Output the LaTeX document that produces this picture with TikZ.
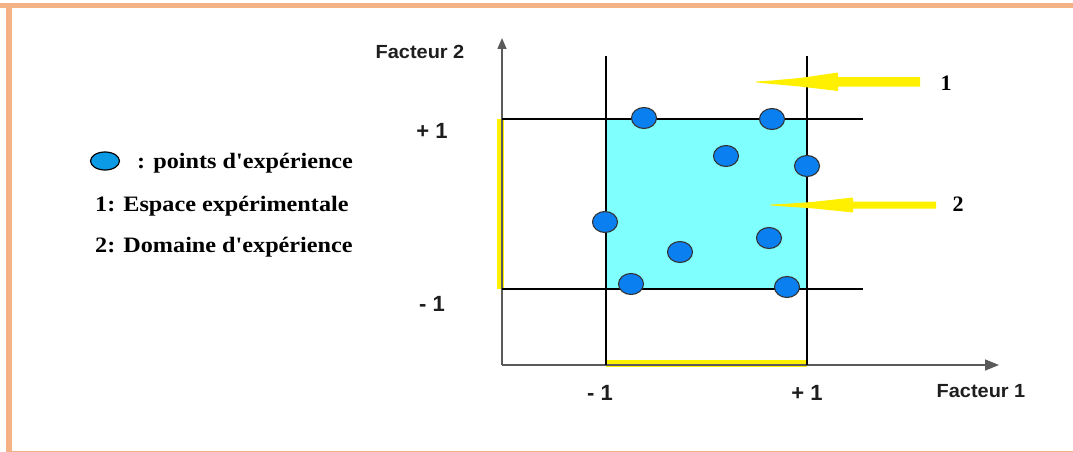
\documentclass[tikz,border=0pt]{standalone}
\usepackage{fontspec}
\setmainfont{Liberation Serif}
\setsansfont{Liberation Sans}
\usetikzlibrary{arrows.meta,shapes.geometric}
\definecolor{frameor}{HTML}{F5B385}
\definecolor{domcyan}{HTML}{80FFFF}
\definecolor{dotblue}{HTML}{0A7FF0}
\definecolor{legblue}{HTML}{0A9AE6}
\definecolor{markyel}{HTML}{FFF000}
\definecolor{axisgray}{HTML}{5A5A5A}
\definecolor{labgray}{HTML}{1E1E1E}
\tikzset{
  gridline/.style={black, line width=2pt},
  axisline/.style={axisgray, line width=1.5pt},
  expdot/.style={ellipse, draw=black!80, line width=1.1pt, fill=dotblue, minimum width=25pt, minimum height=21pt, inner sep=0pt},
  sanslab/.style={font=\sffamily\bfseries\fontsize{19}{21}\selectfont, text=labgray, inner sep=0pt},
  ticklab/.style={font=\sffamily\bfseries\fontsize{22}{24}\selectfont, text=labgray, inner sep=0pt},
  legtext/.style={font=\rmfamily\bfseries\fontsize{22}{25}\selectfont, anchor=west, inner sep=0pt},
  yelarrow/.style={fill=markyel, draw=none},
  yelbar/.style={markyel, line width=7pt}
}
\begin{document}
\begin{tikzpicture}[x=1pt,y=-1pt]
\useasboundingbox (0,0) rectangle (1073,452);
% frame
\fill[frameor] (0,3) rectangle (1073,8.5);
\fill[frameor] (6,3) rectangle (12,452);
\fill[frameor] (6,450.5) rectangle (1073,452);
% domain
\fill[domcyan] (606,119) rectangle (807,289);
% yellow bars
\draw[yelbar] (500.5,119) -- (500.5,289);
\draw[yelbar] (606,363.5) -- (807,363.5);
% coordinates
\coordinate (O) at (502,365);
\coordinate (Ytop) at (502,38);
\coordinate (Xend) at (999,365);
% axes
\draw[axisline, -{Triangle[length=11pt,width=9pt]}] (O) -- (Ytop);
\draw[axisline, -{Triangle[length=14pt,width=11pt]}] (O) -- (Xend);
% grid lines
\coordinate (vl1) at (606,56); \coordinate (vl2) at (606,365);
\coordinate (vr1) at (807,56); \coordinate (vr2) at (807,365);
\coordinate (ht1) at (502,119); \coordinate (ht2) at (863,119);
\coordinate (hb1) at (502,289); \coordinate (hb2) at (863,289);
\draw[gridline] (vl1) -- (vl2);
\draw[gridline] (vr1) -- (vr2);
\draw[gridline] (ht1) -- (ht2);
\draw[gridline] (hb1) -- (hb2);
% points
\node[expdot] (p1) at (644,118) {};
\node[expdot] (p2) at (772,119) {};
\node[expdot] (p3) at (726,156) {};
\node[expdot] (p4) at (807,166) {};
\node[expdot] (p5) at (605,222) {};
\node[expdot] (p6) at (769,238) {};
\node[expdot] (p7) at (680,252) {};
\node[expdot] (p8) at (631,284) {};
\node[expdot] (p9) at (787,287) {};
% yellow arrows
\fill[yelarrow] (920,77) -- (838,77) -- (838,72.5) -- (800,78) -- (772,80.5) -- (756,81.6) -- (756,82.4) -- (772,84) -- (800,86.5) -- (838,91) -- (838,86.5) -- (920,86.5) -- cycle;
\fill[yelarrow] (936,201.5) -- (853,201.5) -- (853,197.5) -- (812,202) -- (786,203.8) -- (770,204.6) -- (770,205.4) -- (786,206.6) -- (812,208.3) -- (853,212.5) -- (853,208.5) -- (936,208.5) -- cycle;
% labels
\node[font=\rmfamily\bfseries\fontsize{22}{24}\selectfont, inner sep=0pt] (n1) at (946,83) {1};
\node[font=\rmfamily\bfseries\fontsize{22}{24}\selectfont, inner sep=0pt] (n2) at (958,204) {2};
\node[sanslab] (f2) at (420,52) {\scalebox{1.05}[1]{Facteur 2}};
\node[sanslab] (f1) at (981,391) {\scalebox{1.05}[1]{Facteur 1}};
\node[ticklab] (yp) at (432,131) {+ 1};
\node[ticklab] (ym) at (432,304) {- 1};
\node[ticklab] (xm) at (600,393) {- 1};
\node[ticklab] (xp) at (807,393) {+ 1};
% legend
\node[ellipse, draw=black, line width=1.2pt, fill=legblue, minimum width=29pt, minimum height=18pt, inner sep=0pt] (leg) at (105,161) {};
\node[legtext] (l0) at (137,163) {\scalebox{1.1}[1]{: points d\textquotesingle expérience}};
\node[legtext] (l1) at (95,206) {\scalebox{1.1}[1]{1: Espace expérimentale}};
\node[legtext] (l2) at (95,247) {\scalebox{1.1}[1]{2: Domaine d\textquotesingle expérience}};
\end{tikzpicture}
\end{document}
